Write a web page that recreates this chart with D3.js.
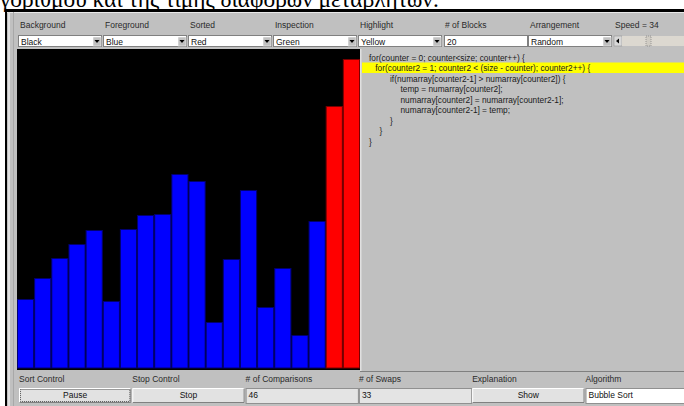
<!DOCTYPE html>
<html>
<head>
<meta charset="utf-8">
<script src="https://cdn.jsdelivr.net/npm/d3@7"></script>
<style>
  html, body { margin: 0; padding: 0; background: #fff; overflow: hidden; }
  text { font-family: "Liberation Sans", Arial, sans-serif; }
</style>
</head>
<body>
<div id="app"></div>
<script>
// values
const barHeights = [69, 90, 110, 124, 138, 67, 139, 153, 154, 194, 187, 46, 109, 178, 61, 100, 33, 147, 262, 309];
const sortedCount = 2;
const topLabels = ["Background", "Foreground", "Sorted", "Inspection", "Highlight", "# of Blocks", "Arrangement", "Speed = 34"];
const topValues = ["Black", "Blue", "Red", "Green", "Yellow", "20", "Random", ""];
const topKinds = ["choice", "choice", "choice", "choice", "choice", "field", "choice", "scroll"];
const bottomLabels = ["Sort Control", "Stop Control", "# of Comparisons", "# of Swaps", "Explanation", "Algorithm"];
const bottomValues = ["Pause", "Stop", "46", "33", "Show", "Bubble Sort"];
const bottomKinds = ["button", "button", "field", "field", "button", "white"];
const codeLines = [
  "for(counter = 0; counter<size; counter++) {",
  "for(counter2 = 1; counter2 < (size - counter); counter2++) {",
  "if(numarray[counter2-1] > numarray[counter2]) {",
  "temp = numarray[counter2];",
  "numarray[counter2] = numarray[counter2-1];",
  "numarray[counter2-1] = temp;",
  "}",
  "}",
  "}"
];
const codeIndent = [0, 0.6, 2, 3, 3, 3, 2, 1, 0];
const highlightLine = 1;
const captionText = "γορίθμου και της τιμής διαφόρων μεταβλητών.";

const W = 684, H = 406;
const left = 17, plotRight = 360, plotTop = 49, plotBottom = 368;
const colW = 85, botColW = 113.3;

const svg = d3.select("#app").append("svg")
  .attr("width", W).attr("height", H)
  .style("display", "block");

// page caption, mostly cut off at the top
const caption = svg.append("text")
  .attr("x", 0).attr("y", 7)
  .style("font-family", "'Liberation Serif', 'Times New Roman', serif")
  .style("font-size", "20px")
  .attr("fill", "#000")
  .text(captionText);
const capLen = caption.node().getComputedTextLength();
const capSize = 20 * 439 / capLen;
caption.style("font-size", capSize + "px");

// applet frame
svg.append("rect").attr("x", 7).attr("y", 12).attr("width", W - 7).attr("height", H - 12).attr("fill", "#c0c0c0");
svg.append("rect").attr("x", 5).attr("y", 9).attr("width", W - 5).attr("height", 3).attr("fill", "#000");
svg.append("rect").attr("x", 5).attr("y", 9).attr("width", 2).attr("height", H).attr("fill", "#000");
svg.append("rect").attr("x", 7).attr("y", 12).attr("width", W - 7).attr("height", 1).attr("fill", "#e8e8e8");
svg.append("rect").attr("x", 8).attr("y", 12).attr("width", 2).attr("height", H).attr("fill", "#e0e0e0");
svg.append("rect").attr("x", 13).attr("y", 12).attr("width", 1).attr("height", H).attr("fill", "#a8a8a8");

// top controls
const topPanel = svg.append("g");
topLabels.forEach((lab, i) => {
  const cx = left + i * colW;
  topPanel.append("text").attr("x", cx + 3).attr("y", 28)
    .style("font-size", "8.5px").attr("fill", "#2a2a2a").text(lab);
  const kind = topKinds[i];
  if (kind === "choice" || kind === "field") {
    const bx = kind === "field" ? cx + 2 : cx + 1;
    topPanel.append("rect").attr("x", bx + 0.5).attr("y", 35.5).attr("width", 83).attr("height", 11)
      .attr("fill", "#fff").attr("stroke", "#808080");
    topPanel.append("text").attr("x", bx + 3).attr("y", 44.5)
      .style("font-size", "8.5px").attr("fill", "#111").text(topValues[i]);
    if (kind === "choice") {
      const ax = bx + 75;
      topPanel.append("rect").attr("x", ax).attr("y", 37).attr("width", 8).attr("height", 9)
        .attr("fill", "#c0c0c0").attr("stroke", "#fff").attr("stroke-width", 0.5);
      topPanel.append("path")
        .attr("d", `M${ax + 1.5},${40} L${ax + 6.5},${40} L${ax + 4},${43} Z`)
        .attr("fill", "#000");
    }
  } else {
    // speed scrollbar
    topPanel.append("rect").attr("x", cx + 2).attr("y", 36).attr("width", 8).attr("height", 10)
      .attr("fill", "#d8d8d8").attr("stroke", "#888").attr("stroke-width", 0.5);
    topPanel.append("path").attr("d", `M${cx + 4},41 L${cx + 7},38.5 L${cx + 7},43.5 Z`).attr("fill", "#000");
    topPanel.append("rect").attr("x", cx + 10).attr("y", 36).attr("width", W - cx - 10).attr("height", 10)
      .attr("fill", "#dcd8d0");
    topPanel.append("rect").attr("x", cx + 34).attr("y", 36).attr("width", 5).attr("height", 10)
      .attr("fill", "#d0ccc4").attr("stroke", "#888").attr("stroke-dasharray", "1,1").attr("stroke-width", 0.8);
  }
});

// plot area
svg.append("rect").attr("x", left).attr("y", plotTop)
  .attr("width", plotRight - left).attr("height", 370 - plotTop).attr("fill", "#000");

const x = d3.scaleBand().domain(d3.range(barHeights.length)).range([left, plotRight]).padding(0);
const y = d3.scaleLinear().domain([0, plotBottom - plotTop]).range([plotBottom, plotTop]);
const firstSorted = barHeights.length - sortedCount;

svg.append("g").selectAll("rect")
  .data(barHeights)
  .join("rect")
  .attr("x", (d, i) => x(i) + 0.5)
  .attr("y", d => y(d) + 0.5)
  .attr("width", x.bandwidth() - 1)
  .attr("height", d => y(0) - y(d) - 0.5)
  .attr("fill", (d, i) => i >= firstSorted ? "#ff0000" : "#0000ff")
  .attr("stroke", (d, i) => i >= firstSorted ? "#7a0000" : "#000070")
  .attr("stroke-width", 1);

// code panel
svg.append("rect").attr("x", plotRight).attr("y", plotTop).attr("width", W - plotRight).attr("height", 322)
  .attr("fill", "#c0c0c0");
svg.append("rect").attr("x", plotRight).attr("y", plotTop).attr("width", 1.5).attr("height", 322).attr("fill", "#e0e0e0");
svg.append("rect").attr("x", plotRight).attr("y", 371).attr("width", W - plotRight).attr("height", 1).attr("fill", "#808080");

const lineY = d3.scaleLinear().domain([0, 1]).range([60.5, 71]);
svg.append("rect").attr("x", 362).attr("y", lineY(highlightLine) - 8.5)
  .attr("width", W - 362).attr("height", 10.5).attr("fill", "#ffff00");
svg.append("g").selectAll("text")
  .data(codeLines)
  .join("text")
  .attr("x", (d, i) => 369 + codeIndent[i] * 10.5)
  .attr("y", (d, i) => lineY(i))
  .style("font-size", "8.3px")
  .attr("fill", "#1a1a1a")
  .text(d => d);

// bottom controls
const bot = svg.append("g");
bottomLabels.forEach((lab, i) => {
  const cx = left + i * botColW;
  bot.append("text").attr("x", cx + 2).attr("y", 382)
    .style("font-size", "8.5px").attr("fill", "#2a2a2a").text(lab);
  const kind = bottomKinds[i];
  const bx = cx + 2, bw = botColW - 1;
  if (kind === "button") {
    bot.append("rect").attr("x", bx).attr("y", 388).attr("width", bw).attr("height", 15).attr("fill", "#e2e2e2");
    bot.append("path").attr("d", `M${bx + 0.5},${402.5} V${388.5} H${bx + bw - 0.5}`)
      .attr("fill", "none").attr("stroke", "#fff");
    bot.append("path").attr("d", `M${bx + 0.5},${402.5} H${bx + bw - 0.5} V${388.5}`)
      .attr("fill", "none").attr("stroke", "#808080");
    if (i === 0) {
      bot.append("rect").attr("x", bx + 1.5).attr("y", 389.5).attr("width", bw - 3).attr("height", 12)
        .attr("fill", "none").attr("stroke", "#555").attr("stroke-dasharray", "1,1");
    }
    bot.append("text").attr("x", bx + bw / 2).attr("y", 398).attr("text-anchor", "middle")
      .style("font-size", "8.5px").attr("fill", "#111").text(bottomValues[i]);
  } else {
    bot.append("rect").attr("x", bx + 0.5).attr("y", 388.5).attr("width", bw).attr("height", 15)
      .attr("fill", kind === "white" ? "#fff" : "#e4e4e4").attr("stroke", "#909090");
    bot.append("text").attr("x", bx + 3).attr("y", 398)
      .style("font-size", "8.5px").attr("fill", "#111").text(bottomValues[i]);
  }
});
</script>
</body>
</html>
